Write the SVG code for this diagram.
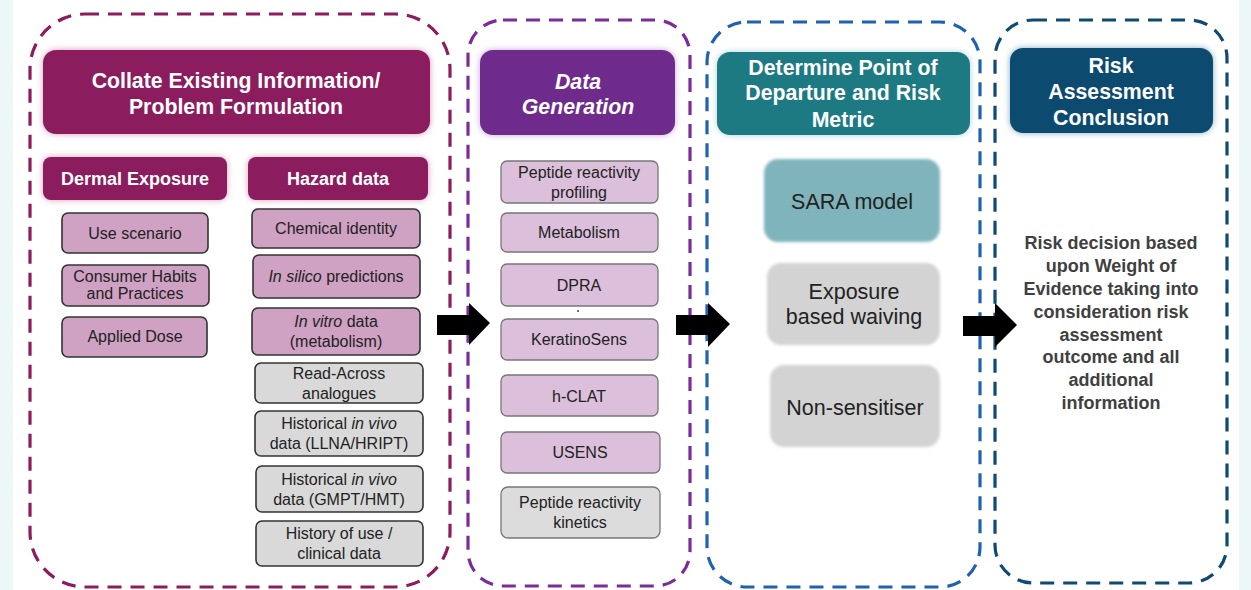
<svg xmlns="http://www.w3.org/2000/svg" width="1251" height="590" viewBox="0 0 1251 590">
<defs>
<filter id="glow" x="-20%" y="-30%" width="140%" height="160%"><feGaussianBlur stdDeviation="3"/></filter>
<filter id="soft" x="-20%" y="-30%" width="140%" height="160%"><feGaussianBlur stdDeviation="1.5"/></filter>
</defs>
<style>
text{font-family:"Liberation Sans",Arial,sans-serif;text-anchor:middle;}
.hw{fill:#fff;font-weight:bold;font-size:21.3px;}
.sub{fill:#fff;font-weight:bold;font-size:18px;}
.t{fill:#222;font-size:16px;}
.t2{fill:#222;font-size:16px;}
.big{fill:#222;font-size:21.5px;}
.pink{fill:#cfa1c2;stroke:#333;stroke-width:1.6;}
.grey{fill:#d9d9d9;stroke:#333;stroke-width:1.6;}
.lil{fill:#dbbfdb;stroke:#777;stroke-width:1.3;}
.lgrey{fill:#dcdcdc;stroke:#777;stroke-width:1.3;}
.dash{fill:none;stroke-width:3.2;stroke-dasharray:14 9;}
.arrow{fill:#000;}
</style>
<rect x="0" y="0" width="1251" height="590" fill="#eef7f7"/>
<rect x="13" y="0" width="1226" height="590" fill="#fff"/>

<g id="panel-collate">
<rect class="dash" x="30" y="14" width="420" height="573" rx="55" stroke="#8b1d5e"/>
<rect x="43" y="50" width="387" height="84" rx="13" fill="#b35a92" filter="url(#glow)" opacity="0.6"/>
<rect x="43" y="50" width="387" height="84" rx="13" fill="#8b1d5e"/>
<text class="hw" x="236" y="88">Collate Existing Information/</text>
<text class="hw" x="236" y="114">Problem Formulation</text>
</g>
<g id="dermal-exposure">
<rect x="43" y="157" width="184" height="43" rx="8" fill="#b35a92" filter="url(#glow)" opacity="0.6"/>
<rect x="43" y="157" width="184" height="43" rx="8" fill="#8b1d5e"/>
<text class="sub" x="135" y="185">Dermal Exposure</text>
</g>
<g id="hazard-data">
<rect x="248" y="157" width="180" height="43" rx="8" fill="#b35a92" filter="url(#glow)" opacity="0.6"/>
<rect x="248" y="157" width="180" height="43" rx="8" fill="#8b1d5e"/>
<text class="sub" x="338" y="185">Hazard data</text>
</g>
<g id="use-scenario"><rect class="pink" x="62" y="213" width="146" height="40" rx="6"/><text class="t" x="135" y="239">Use scenario</text></g>
<g id="consumer-habits"><rect class="pink" x="62" y="265" width="147" height="41" rx="6"/><text class="t" x="135" y="282" font-size="13.5px">Consumer Habits</text><text class="t" x="135" y="299" font-size="13.5px">and Practices</text></g>
<g id="applied-dose"><rect class="pink" x="62" y="317" width="145" height="40" rx="6"/><text class="t" x="135" y="342">Applied Dose</text></g>
<g id="chemical-identity"><rect class="pink" x="252" y="209" width="168" height="39" rx="6"/><text class="t" x="336" y="234">Chemical identity</text></g>
<g id="in-silico"><rect class="pink" x="253" y="255" width="167" height="43" rx="6"/><text class="t" x="336" y="282"><tspan font-style="italic">In silico</tspan> predictions</text></g>
<g id="in-vitro"><rect class="pink" x="252" y="308" width="168" height="47" rx="6"/><text class="t" x="336" y="327"><tspan font-style="italic">In vitro</tspan> data</text><text class="t" x="336" y="347">(metabolism)</text></g>
<g id="read-across"><rect class="grey" x="255" y="363" width="168" height="40" rx="6"/><text class="t" x="339" y="379">Read-Across</text><text class="t" x="339" y="399">analogues</text></g>
<g id="historical-llna"><rect class="grey" x="255" y="411" width="168" height="45" rx="6"/><text class="t" x="339" y="429">Historical <tspan font-style="italic">in vivo</tspan></text><text class="t" x="339" y="449">data (LLNA/HRIPT)</text></g>
<g id="historical-gmpt"><rect class="grey" x="256" y="466" width="167" height="46" rx="6"/><text class="t" x="339" y="485">Historical <tspan font-style="italic">in vivo</tspan></text><text class="t" x="339" y="505">data (GMPT/HMT)</text></g>
<g id="history-of-use"><rect class="grey" x="256" y="521" width="167" height="45" rx="6"/><text class="t" x="339" y="539">History of use /</text><text class="t" x="339" y="559">clinical data</text></g>

<g id="panel-data-generation">
<rect class="dash" x="468" y="20" width="222" height="566" rx="35" stroke="#7b2c99"/>
<rect x="480" y="50" width="195" height="85" rx="13" fill="#a066bd" filter="url(#glow)" opacity="0.6"/>
<rect x="480" y="50" width="195" height="85" rx="13" fill="#6e2b8c"/>
<text class="hw" x="578" y="89" font-style="italic">Data</text>
<text class="hw" x="578" y="114" font-style="italic">Generation</text>
</g>
<g id="peptide-profiling"><rect class="lil" x="501" y="161" width="157" height="42" rx="6"/><text class="t2" x="579" y="178">Peptide reactivity</text><text class="t2" x="579" y="198">profiling</text></g>
<g id="metabolism"><rect class="lil" x="501" y="213" width="157" height="39" rx="6"/><text class="t2" x="579" y="238">Metabolism</text></g>
<g id="dpra"><rect class="lil" x="501" y="264" width="157" height="42" rx="6"/><text class="t2" x="579" y="291">DPRA</text><circle cx="578" cy="311" r="1" fill="#444"/></g>
<g id="keratinosens"><rect class="lil" x="501" y="319" width="157" height="41" rx="6"/><text class="t2" x="579" y="345">KeratinoSens</text></g>
<g id="h-clat"><rect class="lil" x="501" y="375" width="157" height="41" rx="6"/><text class="t2" x="579" y="402">h-CLAT</text></g>
<g id="usens"><rect class="lil" x="501" y="432" width="159" height="41" rx="6"/><text class="t2" x="580" y="458">USENS</text></g>
<g id="peptide-kinetics"><rect class="lgrey" x="501" y="487" width="159" height="51" rx="7"/><text class="t2" x="580" y="508">Peptide reactivity</text><text class="t2" x="580" y="528">kinetics</text></g>

<g id="panel-pod">
<rect class="dash" x="707" y="22" width="273" height="565" rx="40" stroke="#1f62b0"/>
<rect x="717" y="52" width="253" height="83" rx="13" fill="#6fb3b8" filter="url(#glow)" opacity="0.6"/>
<rect x="717" y="52" width="253" height="83" rx="13" fill="#1e7a82"/>
<text class="hw" x="843" y="75">Determine Point of</text>
<text class="hw" x="843" y="100">Departure and Risk</text>
<text class="hw" x="843" y="127">Metric</text>
</g>
<g id="sara-model"><rect x="764" y="159" width="176" height="83" rx="14" fill="#7fb4bc" filter="url(#soft)"/><text class="big" x="852" y="209">SARA model</text></g>
<g id="exposure-waiving"><rect x="767" y="263" width="173" height="82" rx="14" fill="#d3d3d3" filter="url(#soft)"/><text class="big" x="854" y="299">Exposure</text><text class="big" x="854" y="324">based waiving</text></g>
<g id="non-sensitiser"><rect x="770" y="365" width="170" height="82" rx="14" fill="#d3d3d3" filter="url(#soft)"/><text class="big" x="855" y="415">Non-sensitiser</text></g>

<g id="panel-conclusion">
<rect class="dash" x="995" y="20" width="232" height="563" rx="38" stroke="#0e4a72"/>
<rect x="1010" y="48" width="203" height="85" rx="13" fill="#4f86a8" filter="url(#glow)" opacity="0.7"/>
<rect x="1010" y="48" width="203" height="85" rx="13" fill="#0d4a70"/>
<text class="hw" x="1111" y="73">Risk</text>
<text class="hw" x="1111" y="99">Assessment</text>
<text class="hw" x="1111" y="125">Conclusion</text>
<g fill="#404040" font-weight="bold" font-size="18px">
<text x="1111" y="249">Risk decision based</text>
<text x="1111" y="272">upon Weight of</text>
<text x="1111" y="295">Evidence taking into</text>
<text x="1111" y="318">consideration risk</text>
<text x="1111" y="341">assessment</text>
<text x="1111" y="363">outcome and all</text>
<text x="1111" y="386">additional</text>
<text x="1111" y="409">information</text>
</g>
</g>

<g id="connectors">
<polygon class="arrow" points="437,315 469,315 469,303 490,323 469,345 469,335 437,335"/>
<polygon class="arrow" points="676,315 708,315 708,303 730,324 708,347 708,335 676,335"/>
<polygon class="arrow" points="963,316 995,316 995,303 1017,325 995,347 995,336 963,336"/>
</g>
</svg>
